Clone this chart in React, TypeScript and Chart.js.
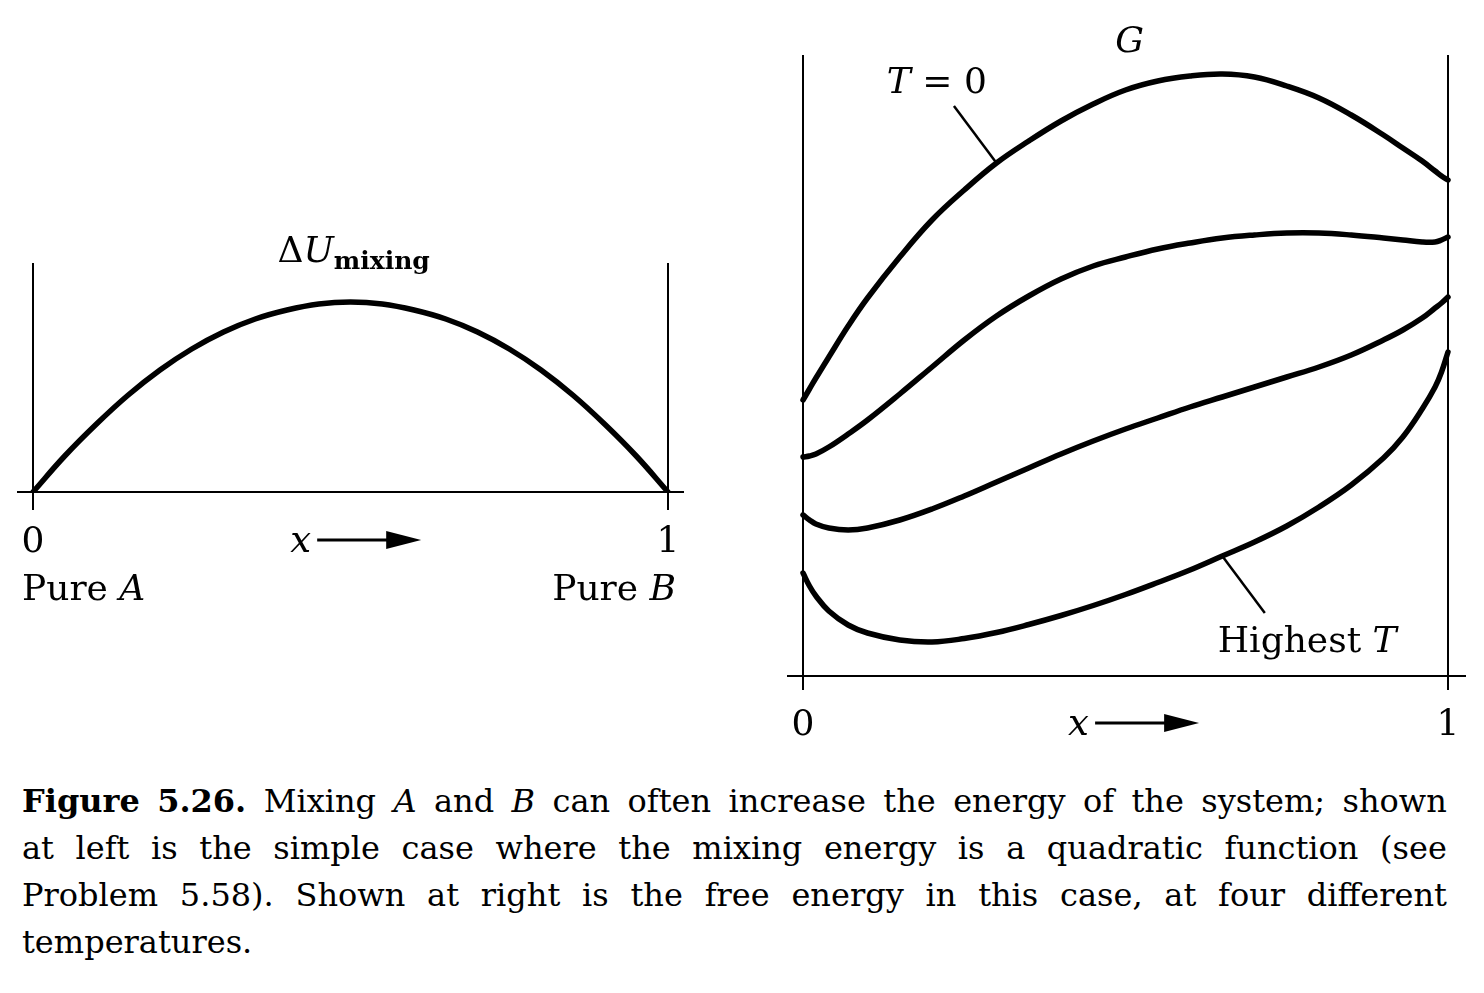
import React, { useEffect, useRef } from "react";
import { Chart, registerables } from "chart.js";

Chart.register(...registerables);

// ---------- Data ----------
// Left panel: mixing energy vs composition x
const mixX = [0, 0.05, 0.1, 0.15, 0.2, 0.25, 0.3, 0.35, 0.4, 0.45, 0.5, 0.55, 0.6, 0.65, 0.7, 0.75, 0.8, 0.85, 0.9, 0.95, 1];
const mixU = [0, 0.36, 0.68, 0.97, 1.22, 1.43, 1.6, 1.73, 1.82, 1.88, 1.9, 1.88, 1.82, 1.73, 1.6, 1.43, 1.22, 0.97, 0.68, 0.36, 0];

// Right panel: free energy G vs x at four temperatures
const gX = [0, 0.01, 0.02, 0.04, 0.07, 0.1, 0.15, 0.2, 0.25, 0.3, 0.35, 0.4, 0.45, 0.5, 0.55, 0.6, 0.65, 0.7, 0.75, 0.8, 0.85, 0.9, 0.93, 0.96, 0.98, 0.99, 1];
const gT0 = [2.76, 2.87, 2.98, 3.19, 3.5, 3.78, 4.19, 4.56, 4.86, 5.13, 5.35, 5.55, 5.72, 5.86, 5.95, 6.0, 6.02, 5.99, 5.9, 5.78, 5.61, 5.41, 5.28, 5.15, 5.05, 5.0, 4.96];
const gT1 = [2.19, 2.2, 2.22, 2.29, 2.42, 2.56, 2.82, 3.09, 3.36, 3.6, 3.8, 3.97, 4.1, 4.19, 4.27, 4.33, 4.38, 4.41, 4.43, 4.43, 4.41, 4.38, 4.36, 4.34, 4.34, 4.36, 4.39];
const gT2 = [1.61, 1.56, 1.52, 1.48, 1.46, 1.48, 1.56, 1.67, 1.8, 1.94, 2.08, 2.22, 2.35, 2.47, 2.58, 2.69, 2.79, 2.89, 2.99, 3.09, 3.21, 3.36, 3.46, 3.58, 3.68, 3.73, 3.79];
const gTHigh = [1.03, 0.9, 0.8, 0.65, 0.51, 0.43, 0.36, 0.34, 0.375, 0.435, 0.515, 0.605, 0.705, 0.815, 0.935, 1.06, 1.2, 1.34, 1.5, 1.69, 1.91, 2.18, 2.39, 2.67, 2.89, 3.04, 3.24];

// Tick positions and labels
const xTicks = [0, 1];
const xTickLabels = ["0", "1"];

// Caption text (markup: **bold**, *italic*)
const captionLines = [
  "**Figure** **5.26.** Mixing *A* and *B* can often increase the energy of the system; shown",
  "at left is the simple case where the mixing energy is a quadratic function (see",
  "Problem 5.58). Shown at right is the free energy in this case, at four different",
  "temperatures.",
];

// ---------- Helpers ----------
const SERIF = '"DejaVu Serif", "Liberation Serif", serif';
const fRoman = (s: number) => `${s}px ${SERIF}`;
const fItalic = (s: number) => `italic ${s}px ${SERIF}`;
const fBold = (s: number) => `bold ${s}px ${SERIF}`;

type Part = { t: string; f: string; dy?: number };

function drawParts(ctx: CanvasRenderingContext2D, parts: Part[], x: number, y: number, align: "left" | "right" | "center" = "left") {
  let total = 0;
  parts.forEach((p) => {
    ctx.font = p.f;
    total += ctx.measureText(p.t).width;
  });
  let cx = align === "left" ? x : align === "right" ? x - total : x - total / 2;
  ctx.textAlign = "left";
  ctx.textBaseline = "alphabetic";
  ctx.fillStyle = "#000";
  parts.forEach((p) => {
    ctx.font = p.f;
    ctx.fillText(p.t, cx, y + (p.dy || 0));
    cx += ctx.measureText(p.t).width;
  });
}

function drawXArrow(ctx: CanvasRenderingContext2D, xStart: number, baseline: number) {
  drawParts(ctx, [{ t: "x", f: fItalic(37) }], xStart, baseline, "left");
  const cy = baseline - 12;
  ctx.strokeStyle = "#000";
  ctx.fillStyle = "#000";
  ctx.lineWidth = 3;
  ctx.beginPath();
  ctx.moveTo(xStart + 27, cy);
  ctx.lineTo(xStart + 100, cy);
  ctx.stroke();
  ctx.beginPath();
  ctx.moveTo(xStart + 96, cy - 9);
  ctx.lineTo(xStart + 131, cy);
  ctx.lineTo(xStart + 96, cy + 9);
  ctx.closePath();
  ctx.fill();
}

function drawPointer(ctx: CanvasRenderingContext2D, x1: number, y1: number, x2: number, y2: number) {
  ctx.strokeStyle = "#000";
  ctx.lineWidth = 2.5;
  ctx.beginPath();
  ctx.moveTo(x1, y1);
  ctx.lineTo(x2, y2);
  ctx.stroke();
}

function xAxis(min: number, max: number, tickLen: number) {
  return {
    type: "linear",
    min,
    max,
    afterBuildTicks: (axis: any) => {
      axis.ticks = xTicks.map((v) => ({ value: v }));
    },
    ticks: { display: false },
    grid: { color: "#000", lineWidth: 2, tickLength: tickLen, drawTicks: true, drawOnChartArea: true },
    border: { display: true, color: "#000", width: 2 },
  };
}

function lineDataset(xs: number[], ys: number[]) {
  return {
    data: xs.map((x, i) => ({ x, y: ys[i] })),
    borderColor: "#000",
    borderWidth: 5.5,
    pointRadius: 0,
    pointHoverRadius: 0,
    fill: false,
    tension: 0.4,
    borderCapStyle: "round",
    borderJoinStyle: "round",
  };
}

const baseOptions = {
  animation: false,
  responsive: false,
  maintainAspectRatio: false,
  events: [],
  plugins: { legend: { display: false }, tooltip: { enabled: false }, title: { display: false } },
};

// ---------- Plugins ----------
const leftLabels = {
  id: "leftLabels",
  afterDraw(chart: any) {
    const { ctx } = chart;
    const x = chart.scales.x;
    const y = chart.scales.y;
    const y0 = y.getPixelForValue(0);
    ctx.save();
    xTicks.forEach((v, i) => drawParts(ctx, [{ t: xTickLabels[i], f: fRoman(36) }], x.getPixelForValue(v), y0 + 60, "center"));
    drawXArrow(ctx, x.getPixelForValue(0.405), y0 + 60);
    drawParts(ctx, [{ t: "Pure ", f: fRoman(36) }, { t: "A", f: fItalic(36) }], x.getPixelForValue(0) - 11, y0 + 108, "left");
    drawParts(ctx, [{ t: "Pure ", f: fRoman(36) }, { t: "B", f: fItalic(36) }], x.getPixelForValue(1) + 8, y0 + 108, "right");
    drawParts(
      ctx,
      [
        { t: "Δ", f: fRoman(36) },
        { t: "U", f: fItalic(36) },
        { t: "mixing", f: fBold(25), dy: 7 },
      ],
      x.getPixelForValue(0.385),
      y.getPixelForValue(2.3),
      "left"
    );
    ctx.restore();
  },
};

const rightLabels = {
  id: "rightLabels",
  afterDraw(chart: any) {
    const { ctx } = chart;
    const x = chart.scales.x;
    const y = chart.scales.y;
    const y0 = y.getPixelForValue(0);
    ctx.save();
    xTicks.forEach((v, i) => drawParts(ctx, [{ t: xTickLabels[i], f: fRoman(36) }], x.getPixelForValue(v), y0 + 59, "center"));
    drawXArrow(ctx, x.getPixelForValue(0.411), y0 + 59);
    drawParts(ctx, [{ t: "G", f: fItalic(36) }], x.getPixelForValue(0.484), y.getPixelForValue(6.24), "left");
    // T = 0 label and pointer
    drawParts(ctx, [{ t: "T", f: fItalic(36) }, { t: " = 0", f: fRoman(36) }], x.getPixelForValue(0.13), y.getPixelForValue(5.83), "left");
    const i0 = gX.indexOf(0.3);
    drawPointer(ctx, x.getPixelForValue(0.234), y.getPixelForValue(5.7), x.getPixelForValue(gX[i0]), y.getPixelForValue(gT0[i0]));
    // Highest T label and pointer
    drawParts(ctx, [{ t: "Highest ", f: fRoman(36) }, { t: "T", f: fItalic(36) }], x.getPixelForValue(0.643), y.getPixelForValue(0.24), "left");
    const i1 = gX.indexOf(0.65);
    drawPointer(ctx, x.getPixelForValue(0.716), y.getPixelForValue(0.63), x.getPixelForValue(gX[i1]), y.getPixelForValue(gTHigh[i1]));
    ctx.restore();
  },
};

function leftConfig(): any {
  return {
    type: "line",
    data: { datasets: [lineDataset(mixX, mixU)] },
    options: {
      ...baseOptions,
      layout: { autoPadding: false, padding: { left: 18, right: 37, top: 63, bottom: 110 } },
      scales: {
        x: xAxis(-0.0236, 1.0236, 18),
        y: { display: false, min: 0, max: 2.29 },
      },
    },
    plugins: [leftLabels],
  };
}

function rightConfig(): any {
  return {
    type: "line",
    data: { datasets: [lineDataset(gX, gT0), lineDataset(gX, gT1), lineDataset(gX, gT2), lineDataset(gX, gTHigh)] },
    options: {
      ...baseOptions,
      layout: { autoPadding: false, padding: { left: 28, right: 19, top: 55, bottom: 70 } },
      scales: {
        x: xAxis(-0.0233, 1.0264, 14),
        y: { display: false, min: 0, max: 6.21 },
      },
    },
    plugins: [rightLabels],
  };
}

function Caption() {
  return (
    <div
      style={{
        position: "absolute",
        left: 22,
        top: 778,
        width: 1425,
        fontFamily: SERIF,
        fontSize: 32,
        lineHeight: "47px",
        color: "#000",
      }}
    >
      {captionLines.map((line, i) => {
        const words = line.split(" ");
        const last = i === captionLines.length - 1;
        return (
          <div key={i} style={{ display: "flex", justifyContent: last ? "flex-start" : "space-between", whiteSpace: "nowrap" }}>
            {words.map((w, j) => {
              const bold = w.startsWith("**");
              const italic = !bold && w.startsWith("*");
              const t = w.replace(/\*/g, "");
              return (
                <span key={j} style={{ fontWeight: bold ? "bold" : "normal", fontStyle: italic ? "italic" : "normal" }}>
                  {t}
                </span>
              );
            })}
          </div>
        );
      })}
    </div>
  );
}

export default function App() {
  const leftRef = useRef<HTMLCanvasElement>(null);
  const rightRef = useRef<HTMLCanvasElement>(null);

  useEffect(() => {
    const c1 = new Chart(leftRef.current as HTMLCanvasElement, leftConfig());
    const c2 = new Chart(rightRef.current as HTMLCanvasElement, rightConfig());
    return () => {
      c1.destroy();
      c2.destroy();
    };
  }, []);

  return (
    <div style={{ position: "absolute", left: 0, top: 0, width: 1484, height: 993, overflow: "hidden", background: "#fff" }}>
      <canvas ref={leftRef} width={720} height={420} style={{ position: "absolute", left: 0, top: 200, width: 720, height: 420 }} />
      <canvas ref={rightRef} width={724} height={760} style={{ position: "absolute", left: 760, top: 0, width: 724, height: 760 }} />
      <Caption />
    </div>
  );
}
